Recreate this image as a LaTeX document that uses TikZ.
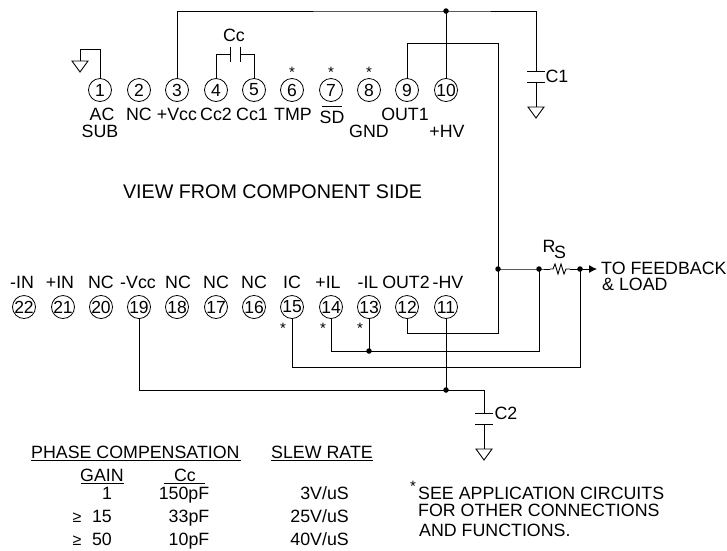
\documentclass[tikz,border=0pt]{standalone}
\usepackage{fontspec}
\setmainfont{Liberation Sans}
\usetikzlibrary{arrows.meta}
\tikzset{
  pin/.style={circle,draw,line width=0.8pt,minimum size=23pt,inner sep=0pt,font=\fontsize{17.5}{17.5}\selectfont},
  lbl/.style={anchor=base,inner sep=0pt,font=\fontsize{17.8}{17.8}\selectfont},
  lft/.style={anchor=base west,inner sep=0pt,font=\fontsize{17.8}{17.8}\selectfont},
  rgt/.style={anchor=base east,inner sep=0pt,font=\fontsize{17.8}{17.8}\selectfont},
  star/.style={anchor=base,inner sep=0pt,font=\fontsize{15}{15}\selectfont},
  wire/.style={line width=0.9pt,line join=miter},
  jdot/.style={circle,fill=black,inner sep=0pt,minimum size=5.5pt},
  uline/.style={line width=0.9pt},
  geq/.style={anchor=base,inner sep=0pt,font=\fontsize{16}{16}\selectfont},
}
\begin{document}
\begin{tikzpicture}[x=1pt,y=-1pt]
\useasboundingbox (0,0) rectangle (727,550);
% pins
\foreach \n/\x in {1/100,2/139,3/177,4/216,5/254,6/292,7/331,8/369,9/407,10/446}
  \node[pin] (p\n) at (\x,90) {\n};
\foreach \n/\x in {22/24,21/63,20/101,19/139,18/177,17/216,16/254,15/292,14/331,13/369,12/407,11/446}
  \node[pin] (p\n) at (\x,307) {\n};
% junctions
\node[jdot] (jt) at (446,11) {};
\node[jdot] (ja) at (498,269) {};
\node[jdot] (jb) at (539,269) {};
\node[jdot] (jc) at (580,269) {};
\node[jdot] (jd) at (369,351) {};
\node[jdot] (je) at (446,390) {};
% free points
\coordinate (g1) at (80,61);
\coordinate (c1a) at (536,71);
\coordinate (c1b) at (536,82);
\coordinate (g2) at (536,107);
\coordinate (c2a) at (484,413);
\coordinate (c2b) at (484,424);
\coordinate (g3) at (484,449);
\coordinate (cca) at (230,54);
\coordinate (ccb) at (240,54);
\coordinate (ra) at (550,269);
\coordinate (rb) at (570,269);
\coordinate (tip) at (597,269);
% top wires
\draw[wire] (p1.north) |- (80,49) -- (g1);
\draw[wire] (g1) ++(-8,0) -- ++(16,0) -- ++(-8,11) -- cycle;
\draw[wire] (p3.north) |- (jt.center) -- (536,11) -- (c1a);
\draw[wire] (jt.center) -- (p10.north);
\draw[wire] (p9.north) |- (498,43) -- (ja.center);
\draw[wire] (c1a) ++(-9,0) -- ++(18,0);
\draw[wire] (c1b) ++(-9,0) -- ++(18,0);
\draw[wire] (c1b) -- (g2);
\draw[wire] (g2) ++(-8,0) -- ++(16,0) -- ++(-8,11) -- cycle;
\draw[wire] (p4.north) |- (cca);
\draw[wire] (p5.north) |- (ccb);
\draw[wire] (cca) ++(0,-7) -- ++(0,15);
\draw[wire] (ccb) ++(0,-7) -- ++(0,15);
% bottom wires
\draw[wire] (p12.south) |- (498,333) -- (ja.center);
\draw[wire] (ja.center) -- (jb.center) -- (ra);
\draw[wire] (ra) -- ++(3,0) -- ++(2,-5) -- ++(3,10) -- ++(3,-10) -- ++(3,10) -- ++(2,-5) -- (rb);
\draw[wire] (rb) -- (jc.center);
\draw[wire,-{Latex[length=8pt,width=8pt]}] (jc.center) -- (tip);
\draw[wire] (p14.south) |- (jd.center) -- (539,351) -- (jb.center);
\draw[wire] (p13.south) -- (jd.center);
\draw[wire] (p15.south) |- (580,367) -- (jc.center);
\draw[wire] (p19.south) |- (je.center) -- (484,390) -- (c2a);
\draw[wire] (p11.south) -- (je.center);
\draw[wire] (c2a) ++(-9,0) -- ++(18,0);
\draw[wire] (c2b) ++(-9,0) -- ++(18,0);
\draw[wire] (c2b) -- (g3);
\draw[wire] (g3) ++(-8,0) -- ++(16,0) -- ++(-8,11) -- cycle;
% top labels
\node[lbl] (tCc) at (234,41) {Cc};
\node[lbl] (t1) at (102,120) {AC};
\node[lbl] (t1b) at (100,137) {SUB};
\node[lbl] (t2) at (139,120) {NC};
\node[lbl] (t3) at (177,120) {+Vcc};
\node[lbl] (t4) at (216,120) {Cc2};
\node[lbl] (t5) at (252,120) {Cc1};
\node[lbl] (t6) at (293,120) {TMP};
\node[lbl] (t7) at (332,123) {SD};
\draw[line width=0.7pt] (322,106) -- (342,106);
\node[lbl] (t8) at (369,137) {GND};
\node[lbl] (t9) at (405,120) {OUT1};
\node[lbl] (t10) at (447,137) {+HV};
\node[lbl] (tC1) at (557,82) {C1};
\foreach \x [count=\i] in {292,331,369} \node[star] (s\i) at (\x,77) {*};
\node[lbl,font=\fontsize{19.7}{19.7}\selectfont] (tview) at (272.5,198.5) {VIEW FROM COMPONENT SIDE};
% bottom labels
\foreach \s/\x [count=\i] in {-IN/22,+IN/60,NC/101,-Vcc/138,NC/178,NC/216,NC/254,IC/292,+IL/328,-IL/368,OUT2/406,-HV/448}
  \node[lbl] (b\i) at (\x,288) {\s};
\foreach \x [count=\i] in {283,323,360} \node[star] (r\i) at (\x,333) {*};
\node[lbl] (tR) at (549,252) {R};
\node[lbl] (tS) at (560,258) {S};
\node[lft] (tf1) at (601,274) {TO FEEDBACK};
\node[lft] (tf2) at (602,290) {\&\ LOAD};
\node[lbl] (tC2) at (506,419) {C2};
% table
\node[lft] (h1) at (31,458) {PHASE COMPENSATION};
\draw[uline] (31,460) -- (241,460);
\node[lft] (h2) at (271,458) {SLEW RATE};
\draw[uline] (271,460) -- (373,460);
\node[lbl] (h3) at (102,481) {GAIN};
\draw[uline] (81,483) -- (124,483);
\node[lbl] (h4) at (185,481) {Cc};
\draw[uline] (164,483) -- (205,483);
\node[lbl] (a1) at (107,499) {1};
\node[lbl] (a2) at (184,499) {150pF};
\node[rgt] (a3) at (349,499) {3V/uS};
\node[geq] (b1a) at (77,522) {≥};
\node[lbl] (b2a) at (102,522) {15};
\node[lbl] (b3a) at (189,522) {33pF};
\node[rgt] (b4a) at (349,522) {25V/uS};
\node[geq] (c1x) at (77,545) {≥};
\node[lbl] (c2x) at (102,545) {50};
\node[lbl] (c3x) at (189,545) {10pF};
\node[rgt] (c4x) at (349,545) {40V/uS};
% note
\node[star] (ns) at (413,491) {*};
\node[lft] (n1) at (418,499) {SEE APPLICATION CIRCUITS};
\node[lft] (n2) at (418,516) {FOR OTHER CONNECTIONS};
\node[lft] (n3) at (419,536) {AND FUNCTIONS.};
\end{tikzpicture}
\end{document}
